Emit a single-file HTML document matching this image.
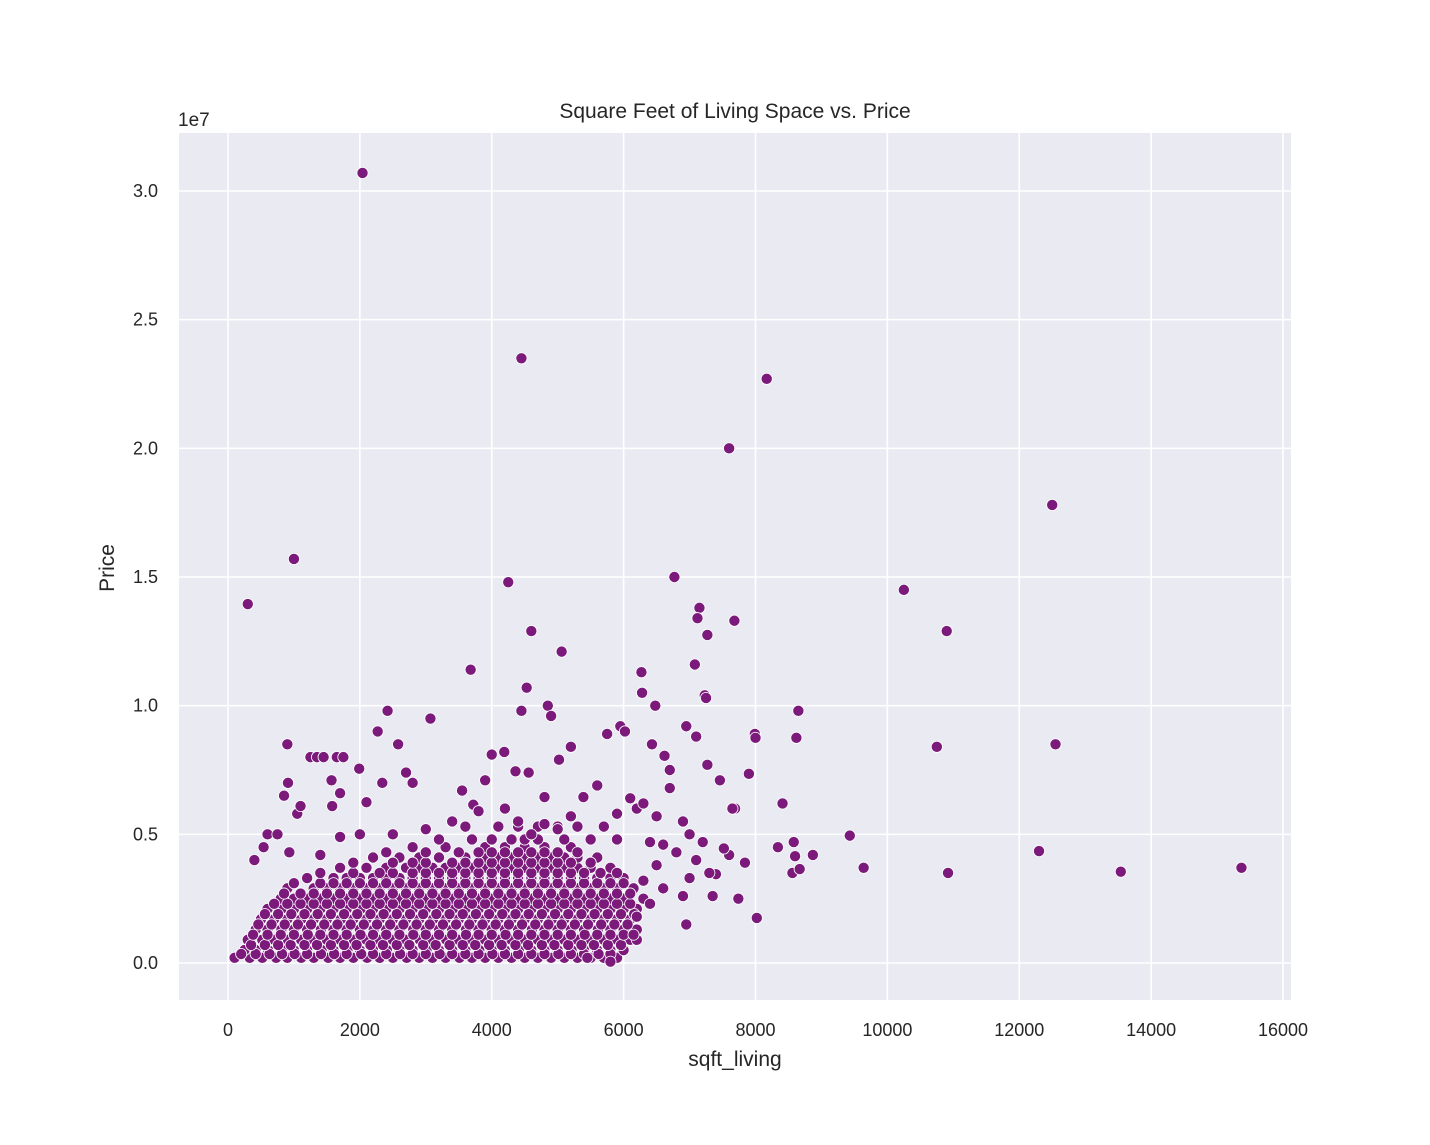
<!DOCTYPE html>
<html><head><meta charset="utf-8"><style>
body{margin:0;background:#fff;}
svg text{font-family:"Liberation Sans",sans-serif;fill:#262626;}
</style></head><body>
<svg id="chart" width="1430" height="1140" xmlns="http://www.w3.org/2000/svg">
<rect x="179" y="133" width="1112" height="867" fill="#EAEAF2"/>
<g id="grid"></g>
<g id="ticks"></g>
<g id="points"></g>
<text x="735" y="118" font-size="21" text-anchor="middle">Square Feet of Living Space vs. Price</text>
<text x="178" y="126" font-size="19">1e7</text>
<text x="735" y="1066" font-size="21" text-anchor="middle">sqft_living</text>
<text transform="translate(114,568) rotate(-90)" font-size="21" text-anchor="middle">Price</text>
</svg>
<script>
const xTicks=[0,2000,4000,6000,8000,10000,12000,14000,16000];
const yTicks=[0,0.5,1.0,1.5,2.0,2.5,3.0];
const yTickLabels=["0.0","0.5","1.0","1.5","2.0","2.5","3.0"];
const denseRowPrices=[0.2,0.5,0.9,1.3,1.7,2.1,2.5,2.9,3.3,3.7,4.1,4.5,
 0.35,0.7,1.1,1.5,1.9,2.3,2.7,3.1,3.5,3.9,4.3,4.8,5.3];
const denseRowSqft=[
[100,330,520,730,900,1110,1300,1520,1700,1900,2110,2300,2500,2710,2900,3100,3300,3510,3700,3900,4100,4300,4500,4700,4900,5100,5300,5500,5700,5900],
[250,420,610,820,1000,1200,1420,1600,1810,2000,2200,2410,2600,2800,3010,3200,3400,3600,3810,4000,4200,4410,4600,4800,5000,5210,5400,5600,5800,6000],
[300,520,700,910,1110,1300,1500,1700,1910,2100,2300,2500,2700,2910,3100,3310,3500,3700,3900,4110,4300,4500,4700,4910,5100,5300,5500,5700,5900,6100,6200],
[420,600,810,1000,1200,1410,1600,1800,2000,2210,2400,2600,2810,3000,3200,3400,3610,3800,4000,4200,4400,4610,4800,5000,5200,5400,5610,5800,6000,6200],
[500,700,900,1110,1300,1500,1710,1900,2100,2300,2500,2700,2900,3110,3300,3500,3700,3900,4100,4300,4500,4700,4910,5100,5300,5500,5700,5900,6100],
[600,810,1000,1200,1400,1600,1800,2010,2200,2400,2600,2800,3000,3200,3410,3600,3800,4000,4200,4400,4600,4800,5000,5200,5400,5600,5800,6000,6200],
[800,1000,1210,1400,1600,1800,2000,2200,2400,2600,2800,3000,3200,3400,3600,3800,4000,4200,4400,4600,4800,5000,5200,5400,5600,5800,6000,6300],
[900,1300,1500,1700,1900,2100,2300,2500,2700,2900,3100,3300,3500,3700,3900,4100,4300,4500,4700,4900,5100,5300,5500,5700,5900,6150],
[1200,1600,1800,2000,2200,2400,2600,2800,3000,3200,3400,3600,3800,4000,4200,4400,4600,4800,5000,5200,5400,5600,5800,6000],
[1700,2100,2400,2700,2900,3100,3300,3500,3700,3900,4100,4300,4500,4700,4900,5100,5300,5500,5800],
[2200,2600,2900,3200,3600,3900,4100,4300,4500,4700,4900,5100,5300,5600],
[2800,3300,3900,4200,4500,4800,5200],
[200,420,630,820,1010,1200,1410,1610,1800,2020,2200,2400,2610,2800,3000,3210,3400,3600,3800,4010,4200,4400,4600,4800,5010,5200,5400,5620,5800],
[350,560,760,950,1160,1350,1560,1760,1950,2160,2350,2560,2750,2960,3150,3360,3560,3750,3960,4150,4360,4550,4760,4950,5160,5360,5550,5760,5960],
[380,600,800,1000,1210,1400,1600,1800,2010,2200,2400,2600,2810,3000,3200,3400,3610,3800,4000,4210,4400,4600,4800,5000,5200,5410,5600,5800,6000,6150],
[460,660,860,1060,1260,1460,1660,1860,2060,2260,2460,2660,2860,3060,3260,3460,3660,3860,4060,4260,4460,4660,4860,5060,5260,5460,5660,5860,6060],
[560,760,960,1160,1360,1560,1760,1960,2160,2360,2560,2760,2960,3160,3360,3560,3760,3960,4160,4360,4560,4760,4960,5160,5360,5560,5760,5960,6160],
[700,900,1100,1300,1500,1700,1900,2100,2300,2500,2700,2900,3100,3300,3500,3700,3900,4100,4300,4500,4700,4900,5100,5300,5500,5700,5900,6100],
[850,1100,1300,1500,1700,1900,2100,2300,2500,2700,2900,3100,3300,3500,3700,3900,4100,4300,4500,4700,4900,5100,5300,5500,5700,5900,6100],
[1000,1400,1600,1800,2000,2200,2400,2600,2800,3000,3200,3400,3600,3800,4000,4200,4400,4600,4800,5000,5200,5400,5600,5800,6000],
[1400,1900,2300,2500,2800,3000,3200,3400,3600,3800,4000,4200,4400,4600,4800,5000,5200,5400,5650,5900],
[1900,2500,2800,3000,3400,3600,3800,4000,4200,4400,4600,4800,5000,5200,5500],
[2400,3000,3500,3800,4000,4200,4400,4600,4800,5000,5300],
[3200,3700,4000,4300,4500,4700,5100,5500,5900],
[3600,4100,4400,4700,5000,5300,5700]
];
const outlierSqft=[2040,4450,8170,7600,12500,1000,300,10250,4250,6770,7150,7680,4600,10900,7120,7270,5060,6270,3680,7080,4530,6280,7230,7250,6480,4850,4450,4900,2420,3070,8650,5950,6020,6950,7100,7990,8000,5750,2270,10750,12550,8620,5200,6430,4190,4000,900,1250,1350,1450,1650,1750,2580,5020,6620,7270,7900,6700,5600,7460,7690,7650,8410,9430,8580,8340,8560,8670,8600,8870,9640,10920,12300,13540,15370,8020,6950,5450,5800,1990,1700,1570,2100,2340,2700,2800,3720,3550,3900,4360,4560,4800,5390,7400,7600,7740,7840,7520,7350,1400,540,400,600,750,930,850,1050,1100,910,1580,1700,6100,6200,6300,5900,6900,7000,7200,6800,6600,6400,6500,7000,7100,7300,6600,6900,6400,6200,6300,6500,6700,5000,5200,4800,4600,3400,3000,2500,2000,3800,4200,4400];
const outlierPrice=[30.7,23.5,22.7,20.0,17.8,15.7,13.95,14.5,14.8,15.0,13.8,13.3,12.9,12.9,13.4,12.75,12.1,11.3,11.4,11.6,10.7,10.5,10.4,10.3,10.0,10.0,9.8,9.6,9.8,9.5,9.8,9.2,9.0,9.2,8.8,8.9,8.75,8.9,9.0,8.4,8.5,8.75,8.4,8.5,8.2,8.1,8.5,8.0,8.0,8.0,8.0,8.0,8.5,7.9,8.05,7.7,7.35,7.5,6.9,7.1,6.0,6.0,6.2,4.95,4.7,4.5,3.5,3.65,4.15,4.2,3.7,3.5,4.35,3.55,3.7,1.75,1.5,0.2,0.05,7.55,6.6,7.1,6.25,7.0,7.4,7.0,6.15,6.7,7.1,7.45,7.4,6.45,6.45,3.45,4.2,2.5,3.9,4.45,2.6,4.2,4.5,4.0,5.0,5.0,4.3,6.5,5.8,6.1,7.0,6.1,4.9,6.4,6.0,6.2,5.8,5.5,5.0,4.7,4.3,4.6,4.7,3.8,3.3,4.0,3.5,2.9,2.6,2.3,1.8,3.2,5.7,6.8,5.2,5.7,5.4,5.0,5.5,5.2,5.0,5.0,5.9,6.0,5.5];

const NS="http://www.w3.org/2000/svg";
function xs(v){return 228+v*(1283-228)/16000;}
function ys(m){return 963-m*(963-191)/30;}
const grid=document.getElementById('grid'),ticks=document.getElementById('ticks'),pts=document.getElementById('points');
xTicks.forEach(t=>{
 const l=document.createElementNS(NS,'line');
 
 
 l.setAttribute('x1',xs(t));l.setAttribute('x2',xs(t));l.setAttribute('y1',133);l.setAttribute('y2',1000);
 l.setAttribute('stroke','#fff');l.setAttribute('stroke-width','1.6');grid.appendChild(l);
 const tx=document.createElementNS(NS,'text');
 
 
 tx.setAttribute('x',xs(t));tx.setAttribute('y',1036);tx.setAttribute('font-size','18');tx.setAttribute('text-anchor','middle');
 tx.textContent=t;ticks.appendChild(tx);
});
yTicks.forEach((t,i)=>{
 const l=document.createElementNS(NS,'line');
 
 
 l.setAttribute('y1',ys(t*10));l.setAttribute('y2',ys(t*10));l.setAttribute('x1',179);l.setAttribute('x2',1291);
 l.setAttribute('stroke','#fff');l.setAttribute('stroke-width','1.6');grid.appendChild(l);
 const tx=document.createElementNS(NS,'text');
 
 
 tx.setAttribute('x',158);tx.setAttribute('y',ys(t*10)+6);tx.setAttribute('font-size','18');tx.setAttribute('text-anchor','end');
 tx.textContent=yTickLabels[i];ticks.appendChild(tx);
});
function dot(x,m){
 const c=document.createElementNS(NS,'circle');
 
 
 c.setAttribute('cx',xs(x));c.setAttribute('cy',ys(m));c.setAttribute('r','5.6');
 c.setAttribute('fill','#7b1a7b');c.setAttribute('stroke','#fff');c.setAttribute('stroke-width','0.8');
 pts.appendChild(c);
}
denseRowPrices.forEach((p,i)=>denseRowSqft[i].forEach(s=>dot(s,p)));
outlierSqft.forEach((s,i)=>dot(s,outlierPrice[i]));
</script>
</body></html>
